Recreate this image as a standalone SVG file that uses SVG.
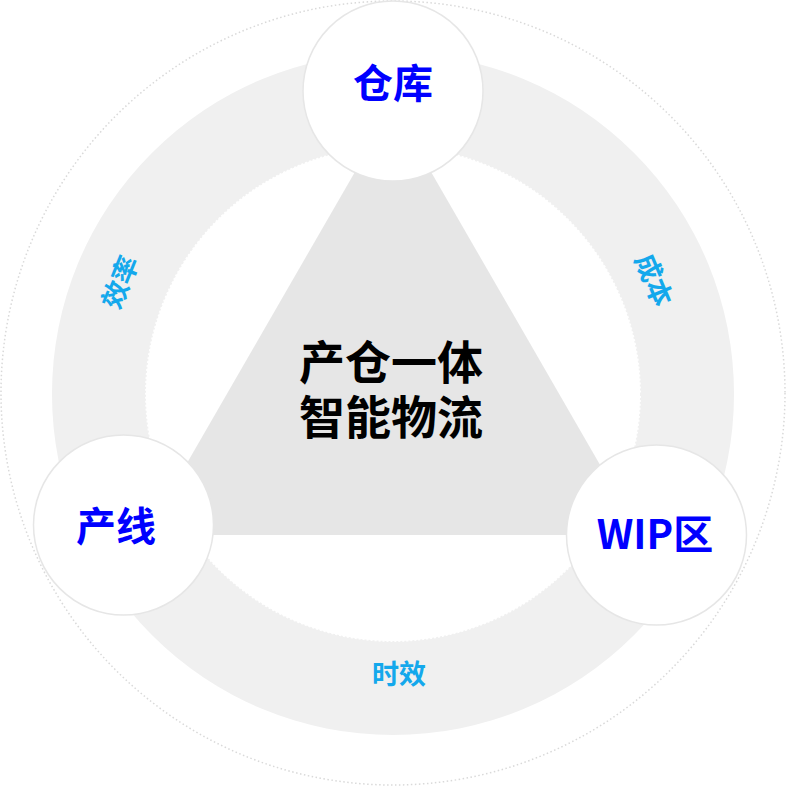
<svg xmlns="http://www.w3.org/2000/svg" width="787" height="787" viewBox="0 0 787 787">
<style>
.node circle{fill:#fff;stroke:#e6e6e6;stroke-width:1.5}
.nlabel{font-family:"Noto Sans CJK SC","Noto Sans",sans-serif;font-weight:700;font-size:40px;fill:#0000ff;text-anchor:middle}
.rlabel{font-family:"Noto Sans CJK SC","Noto Sans",sans-serif;font-weight:700;font-size:27px;fill:#14a8ec;text-anchor:middle}
.center{font-family:"Noto Sans CJK SC","Noto Sans",sans-serif;font-weight:700;font-size:46px;fill:#000;text-anchor:middle}
</style>
<rect width="787" height="787" fill="#fff"/>
<g id="background">
<circle cx="393" cy="393" r="392" fill="none" stroke="#d9d9d9" stroke-width="1.5" stroke-dasharray="1.5 2.5"/>
<circle cx="393" cy="394" r="341" fill="#f0f0f0"/>
<circle cx="393" cy="394" r="248" fill="#fff"/>
<circle cx="393" cy="394" r="248" fill="none" stroke="#f0f0f0" stroke-width="2" stroke-dasharray="2 2"/>
<polygon points="393,106 640.5,535 145.5,535" fill="#e6e6e6"/>
</g>
<g id="connectors">
<text class="rlabel" x="120" y="292" transform="rotate(-68 120 282)">效率</text>
<text class="rlabel" x="654" y="290" transform="rotate(67 654 280)">成本</text>
<text class="rlabel" x="399" y="684">时效</text>
</g>
<g id="center-title">
<text class="center"><tspan x="391" y="379">产仓一体</tspan><tspan x="391" y="434">智能物流</tspan></text>
</g>
<g id="node-warehouse" class="node">
<circle cx="393" cy="91" r="90"/>
<text class="nlabel" x="393" y="98">仓库</text>
</g>
<g id="node-line" class="node">
<circle cx="123.5" cy="525" r="90"/>
<text class="nlabel" x="116" y="541">产线</text>
</g>
<g id="node-wip" class="node">
<circle cx="656.5" cy="535" r="90"/>
<text class="nlabel" x="655" y="549" font-size="38">WIP区</text>
</g>
</svg>
